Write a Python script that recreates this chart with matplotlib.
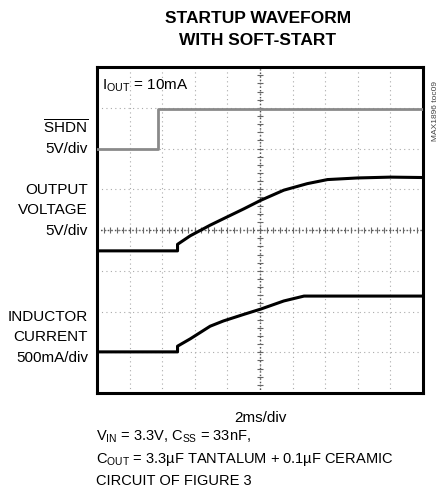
import numpy as np
import matplotlib
matplotlib.use('Agg')
import matplotlib.pyplot as plt

FONT = ['Liberation Sans', 'DejaVu Sans']
plt.rcParams['font.family'] = FONT
plt.rcParams['mathtext.fontset'] = 'custom'
plt.rcParams['mathtext.rm'] = 'Liberation Sans'
plt.rcParams['mathtext.it'] = 'Liberation Sans'

# traces, in scope divisions (x: 0..10, y: 0..8 from bottom)
t_shdn = [0, 1.87, 1.87, 10]
v_shdn = [6.0, 6.0, 6.97, 6.97]

t_out = [0, 2.47, 2.47, 2.86, 3.47, 3.88, 4.50, 5.02, 5.73, 6.45, 7.07, 8.0, 9.0, 10]
v_out = [3.49, 3.49, 3.65, 3.86, 4.12, 4.28, 4.52, 4.73, 4.98, 5.14, 5.24, 5.28, 5.30, 5.29]

t_ind = [0, 2.47, 2.47, 2.86, 3.47, 3.88, 4.50, 5.02, 5.73, 6.35, 8.0, 10]
i_ind = [1.01, 1.01, 1.15, 1.33, 1.64, 1.77, 1.93, 2.06, 2.26, 2.38, 2.38, 2.38]

fig = plt.figure(figsize=(4.46, 4.93), dpi=100)
ax = fig.add_axes([0.2175, 0.2028, 0.731, 0.661])
ax.set_xlim(0, 10)
ax.set_ylim(0, 8)

# graticule
for x in range(1, 10):
    ax.axvline(x, color='#aaaaaa', lw=0.8, ls=(0, (1, 3)), zorder=1)
for y in range(1, 8):
    ax.axhline(y, color='#aaaaaa', lw=0.8, ls=(0, (1, 3)), zorder=1)
ax.axvline(5, color='#555555', lw=1.0, ls=(0, (1, 1.5)), zorder=1)
ax.axhline(4, color='#555555', lw=1.0, ls=(0, (1, 1.5)), zorder=1)
ticks = np.arange(0.2, 10, 0.2)
ax.plot(ticks, np.full_like(ticks, 4), '|', color='#666666', ms=4, mew=0.8, zorder=1)
yt = np.arange(0.2, 8, 0.2)
ax.plot(np.full_like(yt, 5), yt, '_', color='#666666', ms=4, mew=0.8, zorder=1)

ax.plot(t_shdn, v_shdn, color='#8a8a8a', lw=2.0, zorder=3)
ax.plot(t_out, v_out, color='black', lw=2.2, zorder=3)
ax.plot(t_ind, i_ind, color='black', lw=2.2, zorder=3)

ax.set_xticks([])
ax.set_yticks([])
for s in ax.spines.values():
    s.set_linewidth(2.2)

ax.text(0.15, 7.55, r'I$_{\mathrm{OUT}}$ = 10mA', fontsize=11, va='center', ha='left')

# title
fig.text(0.578, 0.963, 'STARTUP WAVEFORM', fontsize=12.5, fontweight='bold', ha='center', va='center')
fig.text(0.578, 0.918, 'WITH SOFT-START', fontsize=12.5, fontweight='bold', ha='center', va='center')

# channel labels
lx = 88 / 446
def lab(ypix, s):
    fig.text(lx, 1 - ypix / 493, s, fontsize=11, ha='right', va='center')
lab(128, r'$\overline{\mathrm{SHDN}}$')
lab(149, '5V/div')
lab(190, 'OUTPUT')
lab(210, 'VOLTAGE')
lab(231, '5V/div')
lab(317, 'INDUCTOR')
lab(337, 'CURRENT')
lab(358, '500mA/div')

fig.text(0.976, 0.775, 'MAX1896 toc09', fontsize=6, rotation=90, ha='center', va='center', color='#444444')

fig.text(260 / 446, 1 - 418 / 493, '2ms/div', fontsize=11, ha='center', va='center')
nx = 96 / 446
fig.text(nx, 1 - 437 / 493, r'V$_{\mathrm{IN}}$ = 3.3V, C$_{\mathrm{SS}}$ = 33nF,', fontsize=10.5, ha='left', va='center')
fig.text(nx, 1 - 459 / 493, r'C$_{\mathrm{OUT}}$ = 3.3µF TANTALUM + 0.1µF CERAMIC', fontsize=10.5, ha='left', va='center')
fig.text(nx, 1 - 481 / 493, 'CIRCUIT OF FIGURE 3', fontsize=10.5, ha='left', va='center')

fig.savefig('out.png', dpi=100)
